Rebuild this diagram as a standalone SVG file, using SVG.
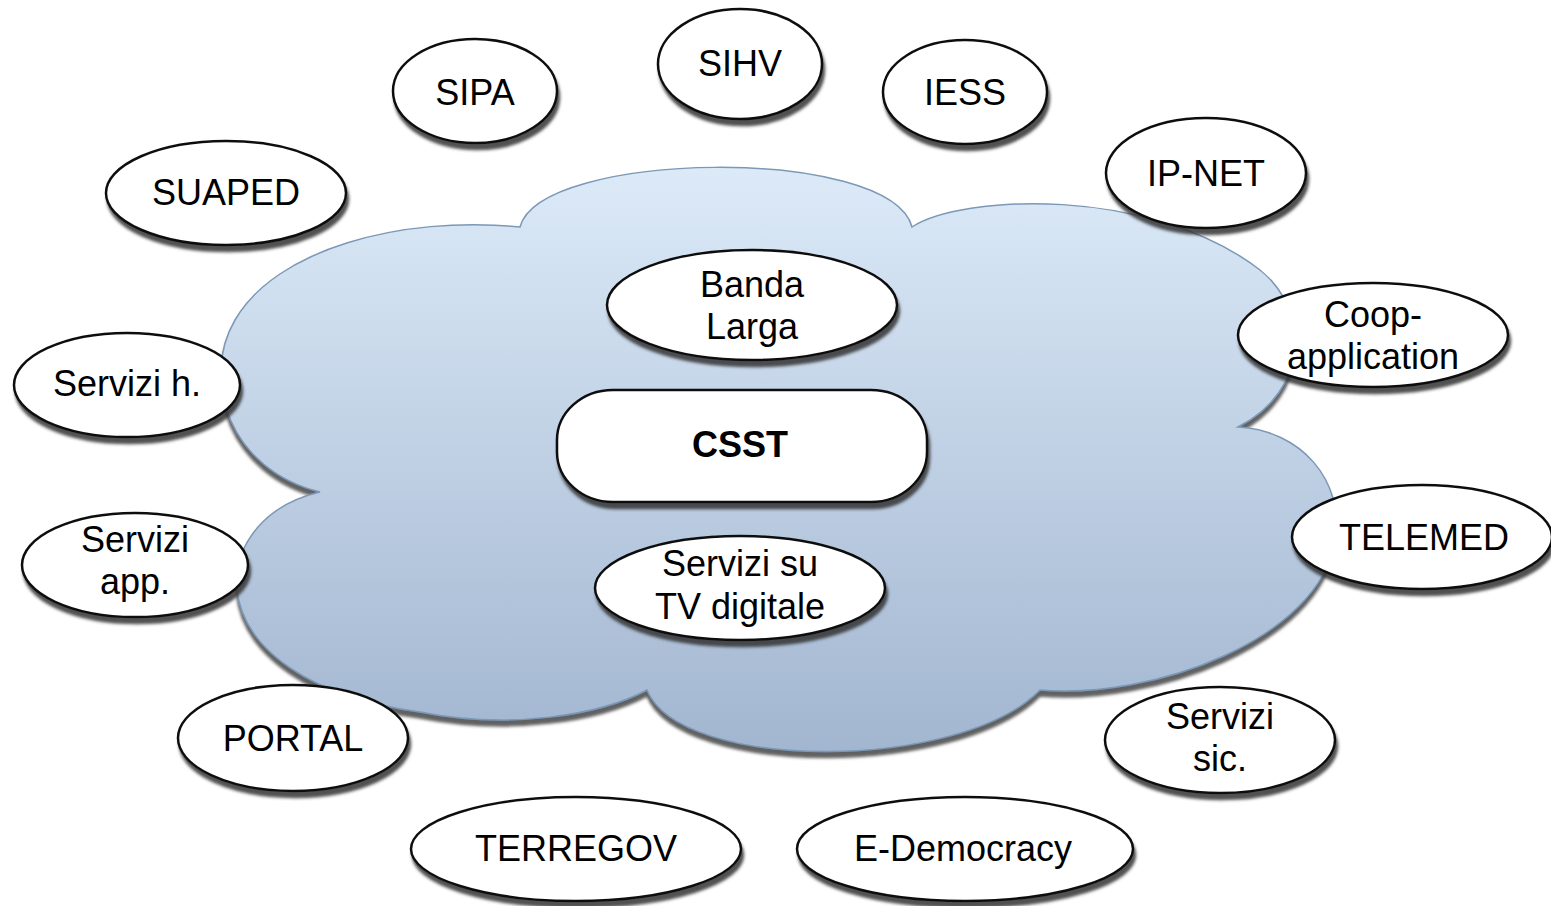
<svg xmlns="http://www.w3.org/2000/svg" width="1551" height="906" viewBox="0 0 1551 906">
<defs>
<linearGradient id="cloudGrad" x1="0" y1="0" x2="0" y2="1">
<stop offset="0" stop-color="#dceaf8"/>
<stop offset="1" stop-color="#a2b6d0"/>
</linearGradient>
<filter id="shadow" x="-10%" y="-10%" width="130%" height="140%">
<feDropShadow dx="2" dy="6" stdDeviation="1.8" flood-color="#333" flood-opacity="0.85"/>
</filter>
<filter id="cloudShadow" x="-5%" y="-5%" width="115%" height="120%">
<feDropShadow dx="0" dy="6" stdDeviation="1.5" flood-color="#444" flood-opacity="0.85"/>
</filter>
</defs>
<style>
.node ellipse, .node rect { fill: #ffffff; stroke: #111111; stroke-width: 2.5; filter: url(#shadow); }
.node text { font-family: "Liberation Sans", Arial, sans-serif; font-size: 36px; fill: #000000; text-anchor: middle; }
.bold { font-weight: bold; }
</style>
<rect x="0" y="0" width="1551" height="906" fill="#ffffff"/>
<g id="cloud">
<path filter="url(#cloudShadow)" fill="url(#cloudGrad)" stroke="#7c98b7" stroke-width="1.5" d="M 520 227 C 540 150, 890 145, 912 227 C 960 195, 1150 185, 1260 270 C 1310 310, 1310 390, 1238 427 C 1300 430, 1345 480, 1335 540 C 1320 640, 1150 700, 1040 690 C 960 772, 680 772, 647 690 C 600 715, 510 730, 420 712 C 190 680, 200 520, 320 492 C 230 470, 200 380, 235 320 C 275 250, 400 215, 520 227 Z"/>
</g>
<g id="connectors"></g>
<g id="node-sipa" class="node"><ellipse cx="475" cy="91" rx="82" ry="52"/><text x="475" y="105">SIPA</text></g>
<g id="node-sihv" class="node"><ellipse cx="740" cy="64" rx="82" ry="55"/><text x="740" y="76">SIHV</text></g>
<g id="node-iess" class="node"><ellipse cx="965" cy="92" rx="82" ry="52"/><text x="965" y="105">IESS</text></g>
<g id="node-suaped" class="node"><ellipse cx="226" cy="193" rx="120" ry="52"/><text x="226" y="205">SUAPED</text></g>
<g id="node-ipnet" class="node"><ellipse cx="1206" cy="173" rx="100" ry="55"/><text x="1206" y="186">IP-NET</text></g>
<g id="node-banda" class="node"><ellipse cx="752" cy="305" rx="145" ry="55"/><text x="752" y="297">Banda</text><text x="752" y="339">Larga</text></g>
<g id="node-coop" class="node"><ellipse cx="1373" cy="335" rx="135" ry="52"/><text x="1373" y="327">Coop-</text><text x="1373" y="369">application</text></g>
<g id="node-servizih" class="node"><ellipse cx="127" cy="385" rx="113" ry="52"/><text x="127" y="396">Servizi h.</text></g>
<g id="node-csst" class="node"><rect x="557" y="390" width="370" height="112" rx="56" ry="50"/><text class="bold" x="740" y="457">CSST</text></g>
<g id="node-servizapp" class="node"><ellipse cx="135" cy="565" rx="113" ry="52"/><text x="135" y="552">Servizi</text><text x="135" y="594">app.</text></g>
<g id="node-telemed" class="node"><ellipse cx="1422" cy="537" rx="130" ry="52"/><text x="1424" y="550">TELEMED</text></g>
<g id="node-tv" class="node"><ellipse cx="740" cy="588" rx="145" ry="52"/><text x="740" y="576">Servizi su</text><text x="740" y="619">TV digitale</text></g>
<g id="node-portal" class="node"><ellipse cx="293" cy="738" rx="115" ry="53"/><text x="293" y="751">PORTAL</text></g>
<g id="node-servizisic" class="node"><ellipse cx="1220" cy="740" rx="115" ry="53"/><text x="1220" y="729">Servizi</text><text x="1220" y="771">sic.</text></g>
<g id="node-terregov" class="node"><ellipse cx="576" cy="849" rx="165" ry="52"/><text x="576" y="861">TERREGOV</text></g>
<g id="node-edemocracy" class="node"><ellipse cx="965" cy="849" rx="168" ry="52"/><text x="963" y="861">E-Democracy</text></g>
</svg>
